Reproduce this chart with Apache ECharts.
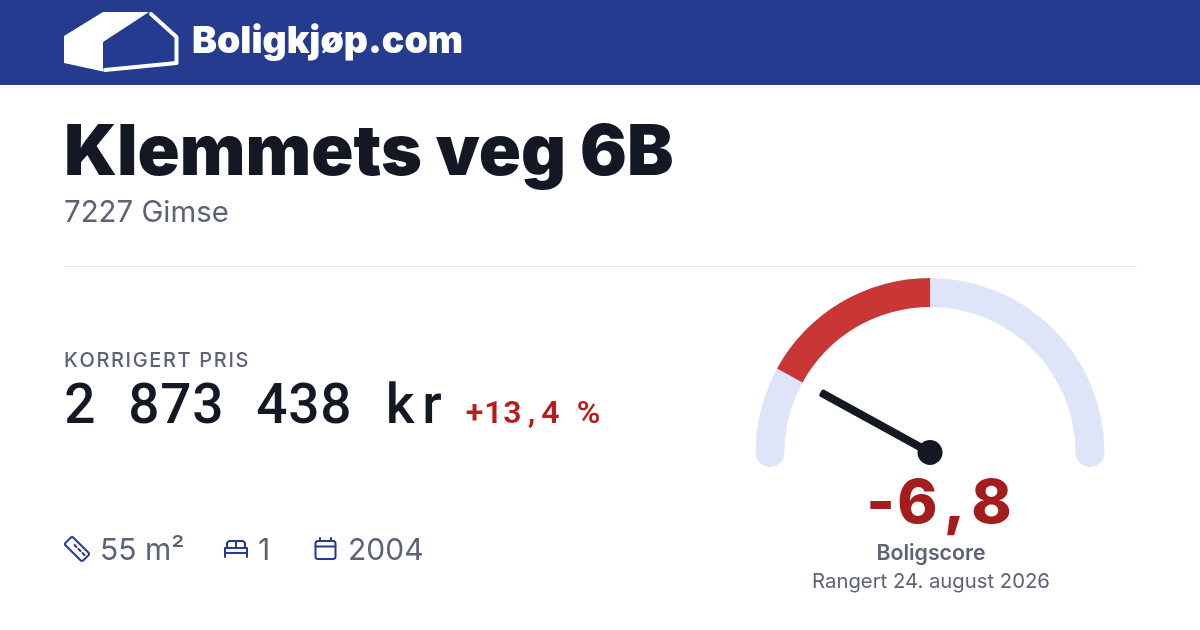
<!DOCTYPE html>
<html>
<head>
<meta charset="utf-8">
<title>Boligscore</title>
<script src="https://cdn.jsdelivr.net/npm/echarts@6/dist/echarts.min.js"></script>
<style>
html, body { margin: 0; padding: 0; background: #fff; }
#chart { width: 1200px; height: 630px; }
</style>
</head>
<body>
<div id="chart"></div>
<script>
// data
var scoreValues = [-6.8];
var scoreRange = [-10, 10];
var scoreLabels = ['-6,8'];
var priceLabels = ['2 873 438 kr'];
var changeLabels = ['+13,4 %'];
var factLabels = ['55 m²', '1', '2004'];

var BLUE = '#243b8f', DARK = '#141824', GREY = '#5c6375';
var SANS = 'Inter', NUM = 'Roboto';

var myChart = echarts.init(document.getElementById('chart'), null, { renderer: 'canvas' });
var measureCtx = document.createElement('canvas').getContext('2d');

function txt(x, y, text, size, weight, color, family, align) {
    return {
        type: 'text', x: x, y: y, silent: true,
        style: {
            text: text, fontSize: size, fontWeight: weight, fontFamily: family || SANS,
            fill: color, textAlign: align || 'left', textVerticalAlign: 'middle'
        }
    };
}
// text with its own spacing: cell = fixed advance per char, extra = added to each char
function spaced(x, y, text, size, weight, color, family, cell, extra) {
    var rich = {}, out = '';
    measureCtx.font = weight + ' ' + size + 'px ' + family;
    text.split('').forEach(function (ch, i) {
        var name = 'c' + i;
        rich[name] = {
            width: cell || (measureCtx.measureText(ch).width + extra),
            align: cell ? 'center' : 'left',
            fontSize: size, fontWeight: weight, fontFamily: family, fill: color
        };
        out += '{' + name + '|' + ch + '}';
    });
    return {
        type: 'text', x: x, y: y, silent: true,
        style: { text: out, rich: rich, textAlign: 'left', textVerticalAlign: 'middle' }
    };
}
function line(points) {
    return {
        type: 'polyline', silent: true, shape: { points: points },
        style: { stroke: BLUE, lineWidth: 2, fill: null, lineCap: 'round', lineJoin: 'round' }
    };
}

var frac = (scoreValues[0] - scoreRange[0]) / (scoreRange[1] - scoreRange[0]);

var graphics = [
    // header
    { type: 'rect', silent: true, z: -1, shape: { x: 0, y: 0, width: 1200, height: 85 }, style: { fill: BLUE } },
    { type: 'polygon', silent: true, shape: { points: [[64, 36], [103, 12], [149, 12], [103, 42], [103, 71.5], [64, 63]] }, style: { fill: '#fff' } },
    { type: 'polyline', silent: true, shape: { points: [[151, 14], [176.5, 37], [176.5, 63], [105, 70]] }, style: { stroke: '#fff', lineWidth: 4, fill: null, lineJoin: 'round', lineCap: 'round' } },
    txt(192, 42, 'Boligkjøp.com', 37.4, 900, '#fff'),
    // title
    txt(64, 154, 'Klemmets veg 6B', 69.7, 900, DARK),
    txt(64, 213, '7227 Gimse', 29.4, 400, GREY),
    { type: 'rect', silent: true, shape: { x: 64, y: 266, width: 1073, height: 1 }, style: { fill: '#e5e7eb' } },
    // price
    spaced(64, 361, 'KORRIGERT PRIS', 20, 500, GREY, SANS, 0, 1.65),
    spaced(64, 409, priceLabels[0], 55, 500, DARK, NUM, 32),
    spaced(465, 415, changeLabels[0], 32, 600, '#b91c1c', NUM, 19),
    // facts
    txt(100, 551, factLabels[0], 30, 400, GREY),
    txt(258, 551, factLabels[1], 30, 400, GREY),
    txt(348, 551, factLabels[2], 30, 400, GREY),
    // ruler icon
    { type: 'rect', silent: true, x: 77, y: 549, rotation: -Math.PI / 4, shape: { x: -12.5, y: -5.5, width: 25, height: 11, r: 2 }, style: { stroke: BLUE, lineWidth: 2, fill: null } },
    line([[74.5, 545], [76.5, 547]]), line([[78.5, 549], [80.5, 551]]), line([[82.5, 553], [84.5, 555]]),
    // bed icon
    line([[225, 557], [225, 548], [247, 548], [247, 557]]),
    line([[225, 553], [247, 553]]),
    line([[227, 548], [227, 543], [229, 541], [243, 541], [245, 543], [245, 548]]),
    line([[236, 541], [236, 548]]),
    // calendar icon
    { type: 'rect', silent: true, shape: { x: 315.5, y: 541, width: 20, height: 18, r: 2.5 }, style: { stroke: BLUE, lineWidth: 2, fill: null } },
    line([[315.5, 546.5], [335.5, 546.5]]), line([[320, 538], [320, 541]]), line([[331, 538], [331, 541]]),
    // gauge text
    spaced(862, 505, scoreLabels[0], 61, 800, '#a51c1c', SANS, 37),
    txt(931, 554, 'Boligscore', 21.3, 600, GREY, SANS, 'center'),
    txt(931, 582, 'Rangert 24. august 2026', 20.3, 400, GREY, SANS, 'center')
];

var gaugeBase = {
    type: 'gauge',
    center: [930, 452.5],
    radius: 174.5,
    startAngle: 180,
    endAngle: 0,
    min: scoreRange[0],
    max: scoreRange[1],
    silent: true,
    splitLine: { show: false },
    axisTick: { show: false },
    axisLabel: { show: false },
    title: { show: false },
    detail: { show: false }
};

var option = {
    animation: false,
    backgroundColor: '#fff',
    graphic: { elements: graphics },
    series: [
        // track
        echarts.util.merge({
            axisLine: { roundCap: true, lineStyle: { width: 29, color: [[1, '#dfe5f8']] } },
            pointer: { show: false },
            anchor: { show: false },
            data: []
        }, gaugeBase),
        // band from the middle of the scale to the score, with needle
        echarts.util.merge({
            axisLine: { lineStyle: { width: 29, color: [[frac, 'rgba(0,0,0,0)'], [0.5, '#c93636'], [1, 'rgba(0,0,0,0)']] } },
            pointer: { show: true, icon: 'roundRect', length: 125, width: 8, offsetCenter: [0, 0], itemStyle: { color: DARK } },
            anchor: { show: true, showAbove: true, size: 25, itemStyle: { color: DARK, borderWidth: 0 } },
            data: [{ value: scoreValues[0] }]
        }, gaugeBase)
    ]
};
myChart.setOption(option);
</script>
</body>
</html>
